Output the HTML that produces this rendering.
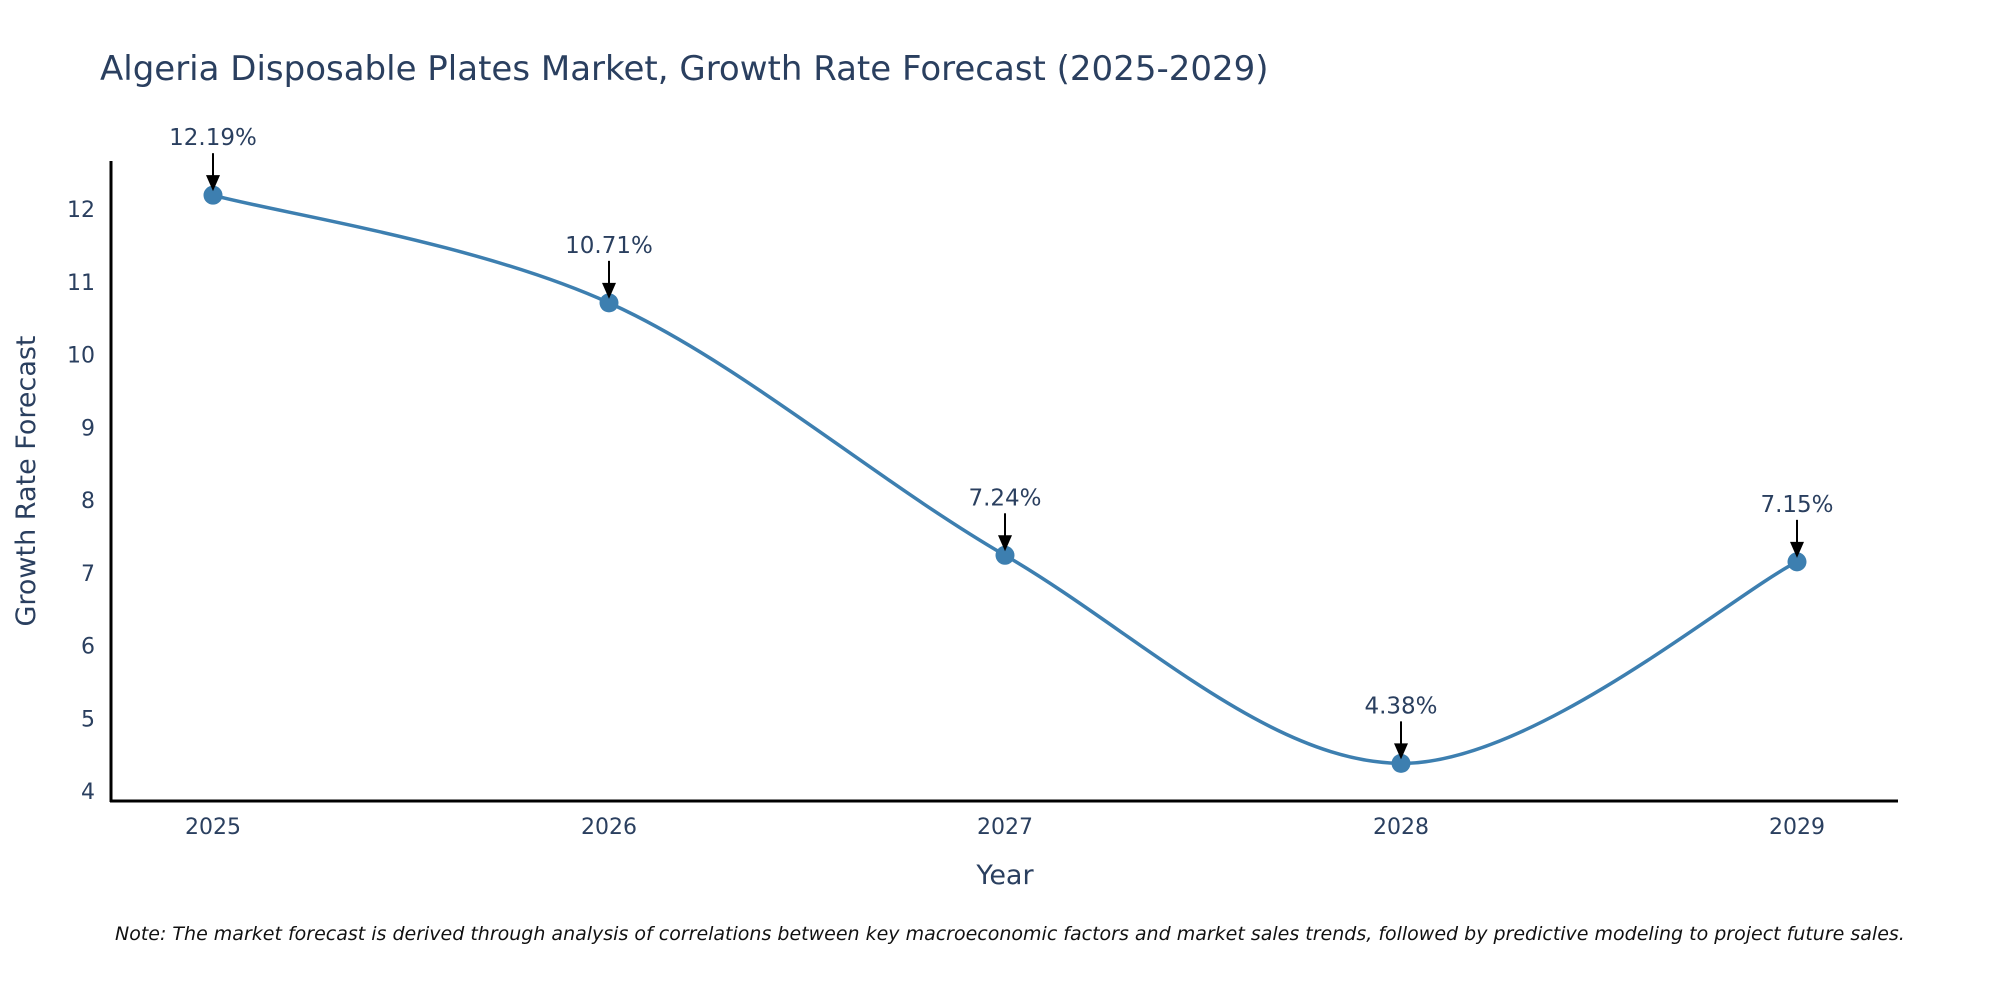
<!DOCTYPE html>
<html><head><meta charset="utf-8"><style>
body{margin:0;background:#fff;}
svg text{font-family:"DejaVu Sans","Liberation Sans",sans-serif;}
</style></head><body>
<svg width="2000" height="1000" xmlns="http://www.w3.org/2000/svg" id="chart">
<rect width="2000" height="1000" fill="#fff"/>
<text x="100" y="80" font-size="34" fill="#2a3f5f">Algeria Disposable Plates Market, Growth Rate Forecast (2025-2029)</text>
<g id="yticks"></g><g id="xticks"></g>
<line x1="111" y1="161" x2="111" y2="802" stroke="#000" stroke-width="3"/>
<line x1="110" y1="801" x2="1898" y2="801" stroke="#000" stroke-width="3"/>
<path id="line" fill="none" stroke="#3d7fb0" stroke-width="3.5"/>
<g id="pts"></g><g id="ann"></g>
<text transform="translate(35,481) rotate(-90)" text-anchor="middle" font-size="27" fill="#2a3f5f">Growth Rate Forecast</text>
<text x="1005" y="884" text-anchor="middle" font-size="27" fill="#2a3f5f">Year</text>
<text x="115" y="940" font-size="19" font-style="italic" fill="#111">Note: The market forecast is derived through analysis of correlations between key macroeconomic factors and market sales trends, followed by predictive modeling to project future sales.</text>
</svg>
<script>
const years=[2025,2026,2027,2028,2029];
const values=[12.19,10.71,7.24,4.38,7.15];
const labels=["12.19%","10.71%","7.24%","4.38%","7.15%"];
const yTicks=[4,5,6,7,8,9,10,11,12];
const NS="http://www.w3.org/2000/svg";
function xs(i){return 213+(1797-213)*i/(years.length-1);}
function ys(v){return 791-(v-4)*(791-209)/8;}
function mk(tag,attrs,parent){const e=document.createElementNS(NS,tag);for(const k in attrs)e.setAttribute(k,attrs[k]);parent.appendChild(e);return e;}
const yt=document.getElementById('yticks');
yTicks.forEach(t=>{const e=mk('text',{x:95,y:ys(t)+8,'text-anchor':'end','font-size':22,fill:'#2a3f5f'},yt);e.textContent=t;

});
const xt=document.getElementById('xticks');
years.forEach((y,i)=>{const e=mk('text',{x:xs(i),y:834,'text-anchor':'middle','font-size':22,fill:'#2a3f5f'},xt);e.textContent=y;

});
const P=values.map((v,i)=>[xs(i),ys(v)]);
let d='M'+P[0][0]+','+P[0][1];
for(let i=0;i<P.length-1;i++){const p0=P[Math.max(0,i-1)],p1=P[i],p2=P[i+1],p3=P[Math.min(P.length-1,i+2)];const k=1/6;
d+=` C${p1[0]+(p2[0]-p0[0])*k},${p1[1]+(p2[1]-p0[1])*k} ${p2[0]-(p3[0]-p1[0])*k},${p2[1]-(p3[1]-p1[1])*k} ${p2[0]},${p2[1]}`;}
document.getElementById('line').setAttribute('d',d);
const pts=document.getElementById('pts'),ann=document.getElementById('ann');
P.forEach((p,i)=>{const c=mk('circle',{cx:p[0],cy:p[1],r:9.5,fill:'#3d7fb0'},pts);


const l=mk('line',{x1:p[0],y1:p[1]-42,x2:p[0],y2:p[1]-18,stroke:'#000','stroke-width':2},ann);


const h=mk('path',{d:`M${p[0]-7},${p[1]-20} L${p[0]+7},${p[1]-20} L${p[0]},${p[1]-4} Z`,fill:'#000'},ann);


const t=mk('text',{x:p[0],y:p[1]-50,'text-anchor':'middle','font-size':23,fill:'#2a3f5f'},ann);t.textContent=labels[i];

});
</script>
</body></html>
